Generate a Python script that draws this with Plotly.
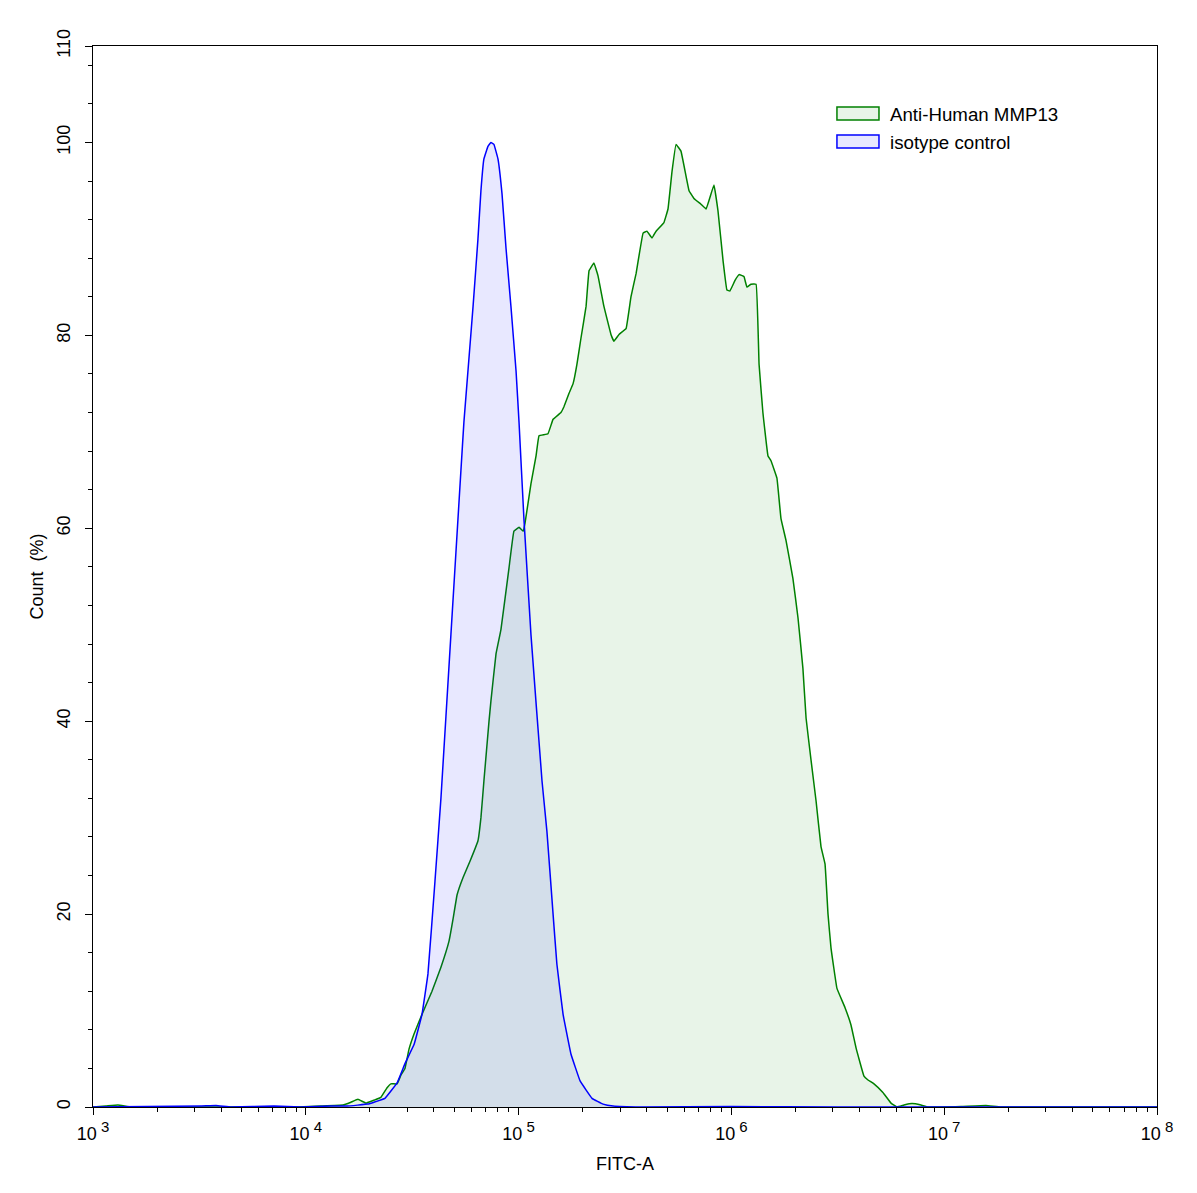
import numpy as np
import plotly.graph_objects as go

# ---- data (FITC-A as log10 decades, count in %) ----
iso_log10 = [3.000, 3.508, 3.578, 3.649, 3.851, 3.977, 4.118, 4.194, 4.292, 4.321, 4.372,
             4.429, 4.466, 4.509, 4.546, 4.574, 4.607, 4.635, 4.682, 4.729, 4.743, 4.762,
             4.786, 4.809, 4.823, 4.837, 4.856, 4.870, 4.884, 4.903, 4.922, 4.941, 4.964,
             4.988, 5.002, 5.025, 5.058, 5.110, 5.133, 5.162, 5.180, 5.209, 5.246, 5.289,
             5.345, 5.397, 5.444, 5.575, 6.000, 6.500, 7.000, 8.000]
iso_count = [0.0, 0.1, 0.15, 0.0, 0.1, 0.0, 0.1, 0.1, 0.3, 0.5, 0.9,
             2.5, 4.5, 6.5, 9.6, 13.8, 23.4, 32.0, 49.0, 66.0, 71.0, 76.3,
             83.0, 90.0, 95.0, 98.3, 99.6, 100.0, 99.8, 98.3, 94.7, 89.0, 83.0,
             76.3, 71.0, 61.0, 49.0, 33.8, 28.6, 20.0, 14.8, 9.6, 5.5, 2.7,
             0.9, 0.3, 0.1, 0.0, 0.05, 0.0, 0.0, 0.0]

mmp13_log10 = [3.000, 3.061, 3.117, 3.179, 3.508, 3.963, 4.071, 4.175, 4.212, 4.245, 4.283,
               4.320, 4.353, 4.382, 4.400, 4.429, 4.447, 4.466, 4.485, 4.509, 4.546, 4.593,
               4.635, 4.673, 4.692, 4.711, 4.739, 4.772, 4.809, 4.823, 4.837, 4.861, 4.870,
               4.894, 4.917, 4.955, 4.978, 5.002, 5.021, 5.030, 5.058, 5.082, 5.096, 5.138,
               5.162, 5.199, 5.213, 5.237, 5.256, 5.274, 5.293, 5.317, 5.331, 5.354, 5.373,
               5.401, 5.434, 5.448, 5.472, 5.505, 5.528, 5.552, 5.585, 5.603, 5.627, 5.646,
               5.683, 5.702, 5.721, 5.740, 5.763, 5.801, 5.824, 5.857, 5.881, 5.918, 5.937,
               5.961, 5.979, 5.993, 6.017, 6.036, 6.059, 6.073, 6.092, 6.116, 6.130, 6.148,
               6.172, 6.186, 6.214, 6.233, 6.257, 6.289, 6.313, 6.336, 6.351, 6.374, 6.398,
               6.421, 6.440, 6.454, 6.468, 6.496, 6.534, 6.562, 6.586, 6.623, 6.642, 6.670,
               6.712, 6.750, 6.778, 6.811, 6.849, 6.891, 6.924, 7.079, 7.196, 7.267, 8.000]
mmp13_count = [0.0, 0.1, 0.2, 0.0, 0.0, 0.0, 0.1, 0.2, 0.5, 0.8, 0.4,
               0.7, 1.0, 2.0, 2.4, 2.4, 3.3, 4.0, 6.0, 7.6, 9.6, 12.0,
               14.5, 17.2, 19.5, 22.0, 23.8, 25.5, 27.6, 30.0, 33.8, 40.0, 42.1,
               47.0, 49.5, 55.9, 59.7, 60.1, 59.7, 60.5, 64.6, 67.5, 69.6, 69.8,
               71.3, 72.0, 72.6, 74.0, 75.0, 77.0, 79.7, 83.0, 86.7, 87.5, 86.2,
               83.0, 80.1, 79.4, 80.1, 80.7, 84.0, 86.4, 90.6, 90.8, 90.1, 90.8,
               91.7, 93.1, 97.0, 99.8, 99.1, 95.0, 94.2, 93.6, 93.1, 95.6, 92.9,
               87.7, 84.7, 84.6, 85.7, 86.3, 86.1, 85.0, 85.3, 85.3, 77.0, 72.0,
               67.5, 67.0, 65.2, 61.0, 58.7, 54.8, 50.7, 45.5, 40.3, 36.0, 31.7,
               27.0, 25.2, 20.0, 16.5, 12.3, 10.3, 8.5, 6.1, 3.2, 2.8, 2.4,
               1.5, 0.4, 0.0, 0.2, 0.35, 0.2, 0.0, 0.05, 0.15, 0.0, 0.0]

series_names = ["Anti-Human MMP13", "isotype control"]
series_line = ["#008000", "#0000ff"]
series_fill = ["rgba(0,128,0,0.09)", "rgba(0,0,255,0.09)"]

x_tick_exp = [3, 4, 5, 6, 7, 8]
y_tick_vals = [0, 20, 40, 60, 80, 100, 110]

iso_x = 10 ** np.array(iso_log10)
mmp_x = 10 ** np.array(mmp13_log10)

FONT = "Liberation Sans, Arial, sans-serif"

fig = go.Figure()
for xs, ys, nm, lc, fc in [(mmp_x, mmp13_count, series_names[0], series_line[0], series_fill[0]),
                           (iso_x, iso_count, series_names[1], series_line[1], series_fill[1])]:
    fig.add_trace(go.Scatter(
        x=xs, y=ys, mode="lines", name=nm, showlegend=False,
        line=dict(color=lc, width=1.5, shape="spline", smoothing=0.2),
        fill="tozeroy", fillcolor=fc))

# legend drawn as boxed swatches (as in the reference)
leg_x0, leg_x1, leg_tx = 0.6992, 0.7387, 0.7472
leg_rows = [(0.9303, 0.9425, 0.9359), (0.9039, 0.9161, 0.9095)]
for (y0, y1, ty), nm, lc, fc in zip(leg_rows, series_names, series_line, series_fill):
    fig.add_shape(type="rect", xref="paper", yref="paper", x0=leg_x0, x1=leg_x1,
                  y0=y0, y1=y1, line=dict(color=lc, width=1.5), fillcolor=fc)
    fig.add_annotation(xref="paper", yref="paper", x=leg_tx, y=ty, text=nm,
                       showarrow=False, xanchor="left", yanchor="middle",
                       font=dict(size=18.7, family=FONT, color="black"))

minor_x = [m * 10 ** e for e in x_tick_exp[:-1] for m in range(2, 10)]

fig.update_layout(
    width=1197, height=1193,
    margin=dict(l=85, r=48, t=38, b=94),
    paper_bgcolor="white", plot_bgcolor="white",
    font=dict(family=FONT, size=17, color="black"),
    showlegend=False,
    xaxis=dict(
        type="log", range=[3, 8],
        tickmode="array", tickvals=[10 ** e for e in x_tick_exp],
        ticktext=["10<sup><span style='font-size:15px'> %d</span></sup>" % e for e in x_tick_exp],
        tickfont=dict(size=18, family=FONT),
        ticks="outside", ticklen=7, tickwidth=1, tickcolor="black",
        ticklabelstandoff=3,
        minor=dict(tickmode="array", tickvals=minor_x, ticks="outside",
                   ticklen=4, tickwidth=1, tickcolor="black"),
        showline=True, linecolor="black", linewidth=1, mirror=True,
        showgrid=False, zeroline=False,
        title=dict(text="FITC-A", font=dict(size=18, family=FONT), standoff=14),
    ),
    yaxis=dict(
        range=[0, 110],
        tickmode="array", tickvals=y_tick_vals,
        ticktext=[str(v) for v in y_tick_vals],
        tickangle=-90, tickfont=dict(size=18, family=FONT),
        ticks="outside", ticklen=7, tickwidth=1, tickcolor="black",
        ticklabelstandoff=8,
        minor=dict(tickmode="linear", tick0=0, dtick=4, ticks="outside",
                   ticklen=4, tickwidth=1, tickcolor="black"),
        showline=True, linecolor="black", linewidth=1, mirror=True,
        showgrid=False, zeroline=False,
        title=dict(text="Count  (%)", font=dict(size=18, family=FONT), standoff=5),
    ),
)

fig.write_html("out.html")
